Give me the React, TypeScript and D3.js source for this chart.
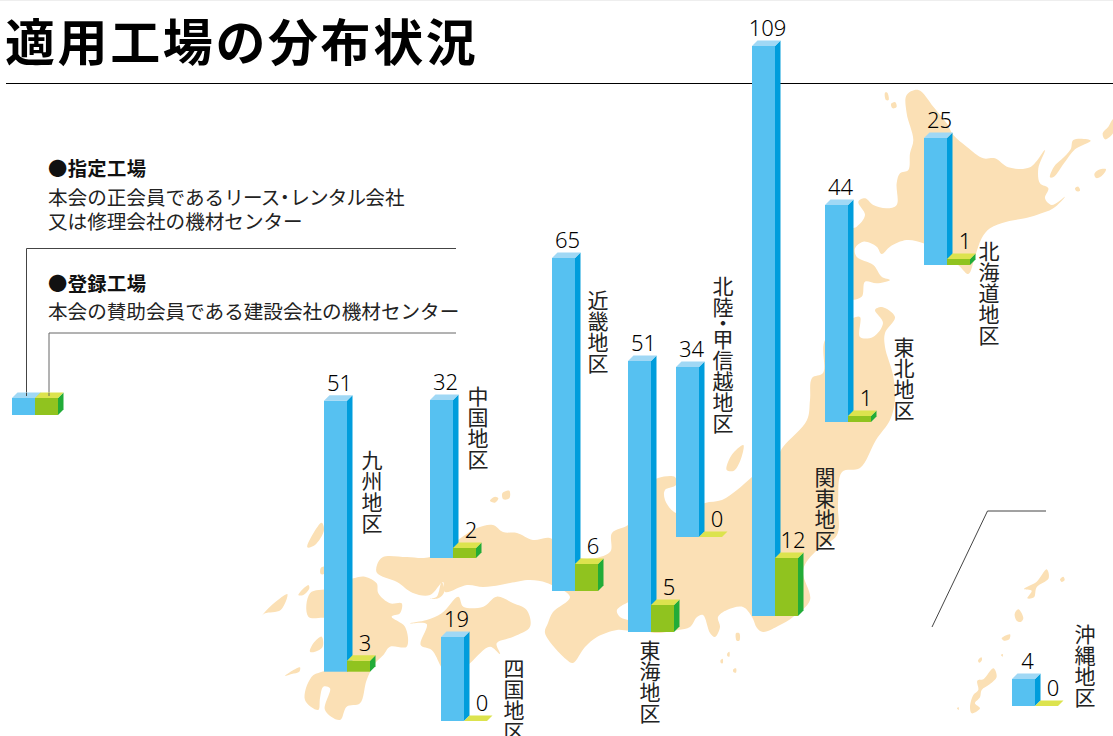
import React from "react";
import * as d3 from "d3";

// ---- data ----
const regions = ["九州地区", "中国地区", "四国地区", "近畿地区", "東海地区", "北陸・甲信越地区", "関東地区", "東北地区", "北海道地区", "沖縄地区"];
const designated = [51, 32, 19, 65, 51, 34, 109, 44, 25, 4];
const registered = [3, 2, 0, 6, 5, 0, 12, 1, 1, 0];

// the source graphic's bar heights are not strictly proportional: calibrated value -> height scale
const scaleDomain = [0, 1, 2, 3, 4, 5, 6, 12, 19, 25, 32, 34, 44, 51, 65, 109];
const scaleRange = [0, 6, 10, 11, 27, 27, 27, 58, 84, 127, 158, 170, 217, 271, 333, 570];

// ---- layout: bar anchor on the map, and label anchor ----
const barX = [324, 430, 441, 552, 628, 676, 752, 825, 924, 1012];
const baseY = [671.7, 558, 721, 591, 632, 537, 616, 422, 265, 706];
const labelX = [372, 478, 514, 598, 650, 723, 825, 904, 989, 1085];
const labelY = [450, 386, 658, 290, 640, 276, 467, 337, 241, 624];

const C = {
  blue: "#56C1F1", blueSide: "#009DDC", blueTop: "#A0D8F5",
  green: "#90C31F", greenSide: "#22AC38", greenTop: "#DCE34E",
  map: "#FBE0B5",
};
const W = 23, D = 5.5;
const LATIN = "'Noto Sans', sans-serif";
const CJK = "'Noto Sans CJK JP', sans-serif";

const h = d3.scaleLinear().domain(scaleDomain).range(scaleRange);

// ---- background map, traced ----
type P = [number, number];
const z = (ox: number, oy: number, pts: P[]): P[] => pts.map(([x, y]) => [x / 3 + ox, y / 3 + oy]);
const Z1 = (p: P[]) => z(700, 80, p);
const Z2 = (p: P[]) => z(250, 450, p);
const Z3 = (p: P[]) => z(530, 420, p);
const Z5 = (p: P[]) => z(920, 500, p);

const hokkaido = Z1([[655, 30], [700, 80], [740, 130], [760, 165], [800, 200], [850, 235], [885, 235], [925, 262], [990, 262], [1035, 210], [1015, 265], [1020, 310], [1045, 325], [1035, 355], [1055, 375], [1095, 350], [1060, 385], [1010, 405], [975, 415], [920, 425], [870, 445], [845, 475], [825, 530], [805, 582], [780, 560], [745, 530], [670, 490], [620, 480], [570, 500], [545, 522], [530, 500], [490, 485], [465, 505], [470, 530], [520, 555], [545, 590], [570, 600], [530, 610], [495, 605], [485, 650], [440, 655], [420, 500], [440, 450], [470, 440], [495, 405], [475, 365], [495, 355], [520, 375], [560, 385], [590, 375], [590, 310], [600, 280], [625, 270], [630, 220], [640, 180], [620, 100], [620, 45]]);
const honshu: P[] = [[853, 318], [860, 317], [860, 337], [873, 337], [883, 323], [875, 310], [882, 307], [895, 317], [885, 333], [885, 347], [893, 375], [895, 400], [890, 420], [876, 440], [860, 468], [842, 472], [838, 503], [837, 535], [817, 550], [803, 570], [810, 600], [793, 617], [780, 625], [763, 632], [757, 628], [752, 617], [743, 607], [727, 610], [718, 617], [720, 627], [715, 637], [710, 633], [703, 615], [697, 617], [690, 627], [678, 630], [650, 632], [640, 620], [640, 600], [617, 610], [620, 617], [632, 622], [632, 630], [617, 630], [597, 637], [585, 647], [573, 663], [567, 660], [545, 633], [548, 623], [553, 612], [570, 597], [547, 583], [530, 580], [510, 583], [500, 585], [483, 587], [467, 585], [445, 592], [443, 582], [430, 595], [413, 593], [397, 582], [377, 573], [377, 565], [383, 557], [407, 557], [430, 557], [477, 528], [493, 525], [503, 532], [517, 533], [533, 540], [550, 538], [580, 558], [610, 552], [612, 533], [628, 525], [640, 510], [640, 490], [658, 478], [675, 477], [676, 485], [665, 490], [665, 500], [676, 513], [690, 510], [705, 503], [722, 500], [737, 490], [752, 477], [775, 460], [783, 447], [807, 420], [810, 400], [812, 378], [823, 373], [825, 340]];
const shikoku = Z2([[480, 520], [530, 510], [575, 490], [625, 440], [640, 470], [700, 470], [740, 440], [790, 460], [830, 480], [840, 530], [790, 560], [740, 580], [750, 612], [720, 590], [660, 640], [600, 700], [573, 650], [545, 600], [512, 585], [530, 522]]);
const kyushu = Z2([[310, 385], [345, 380], [380, 400], [385, 430], [420, 460], [455, 460], [450, 490], [425, 500], [465, 530], [470, 590], [420, 590], [400, 615], [375, 640], [350, 690], [330, 760], [290, 770], [270, 810], [225, 780], [240, 715], [220, 710], [210, 745], [205, 780], [165, 750], [185, 680], [240, 650], [240, 510], [175, 500], [180, 430], [240, 415]]);
const islands: P[][] = [
  Z2([[172, 292], [190, 250], [215, 218], [222, 240], [195, 285]]),
  Z2([[35, 498], [60, 470], [112, 432], [92, 480], [45, 490]]),
  Z2([[180, 605], [190, 580], [215, 560], [218, 590], [195, 605]]),
  Z2([[105, 678], [130, 660], [150, 652], [148, 665], [125, 672]]),
  Z2([[720, 152], [735, 140], [745, 145], [735, 158]]),
  Z2([[757, 130], [778, 122], [778, 145], [760, 148]]),
  Z2([[212, 355], [222, 350], [222, 372], [212, 372]]),
  Z2([[145, 435], [175, 405], [178, 415], [160, 435]]),
  Z2([[540, 445], [560, 440], [575, 395], [583, 425], [565, 445]]),
  Z3([[590, 150], [605, 105], [640, 75], [635, 110], [612, 152]]),
  Z3([[618, 640], [628, 640], [628, 662], [620, 662]]),
  Z3([[592, 700], [598, 695], [598, 710], [592, 708]]),
  Z3([[572, 720], [578, 716], [578, 730], [572, 728]]),
  Z3([[610, 748], [618, 745], [618, 758], [610, 756]]),
  Z1([[555, 38], [562, 38], [566, 60], [558, 60]]),
  Z1([[573, 72], [585, 66], [590, 80], [578, 85]]),
  Z1([[1050, 292], [1062, 260], [1085, 238], [1112, 208], [1120, 180], [1172, 182], [1125, 208], [1092, 250], [1062, 290]]),
  Z1([[1183, 282], [1195, 270], [1218, 268], [1205, 288], [1188, 294]]),
  Z1([[1208, 160], [1225, 140], [1239, 118], [1239, 160], [1215, 178]]),
  Z1([[1125, 325], [1135, 320], [1140, 332], [1130, 334]]),
  Z5([[312, 267], [350, 245], [380, 208], [386, 235], [350, 262], [342, 292], [322, 295], [335, 272]]),
  Z5([[420, 238], [430, 230], [434, 240], [425, 246]]),
  Z5([[284, 342], [295, 328], [310, 355], [302, 366], [290, 362]]),
  Z5([[245, 415], [270, 403], [268, 418], [252, 422]]),
  Z5([[150, 622], [160, 585], [175, 570], [172, 542], [190, 538], [220, 505], [230, 530], [210, 552], [185, 570], [180, 592], [165, 610], [180, 625], [155, 640]]),
  Z5([[174, 482], [184, 472], [186, 480], [178, 488]]),
  Z5([[111, 625], [116, 622], [116, 630]]),
  Z5([[243, 465], [248, 462], [248, 470]]),
];
const coast = d3.line<P>().curve(d3.curveCatmullRomClosed.alpha(0.5));

// ---- 3D block ----
function Block({ x, base, height, front, side, top }: { x: number; base: number; height: number; front: string; side: string; top: string }) {
  const y = base - height;
  const topFace = d3.path();
  topFace.moveTo(x, y); topFace.lineTo(x + D, y - D); topFace.lineTo(x + W + D, y - D); topFace.lineTo(x + W, y); topFace.closePath();
  if (height === 0) return <path d={topFace.toString()} fill={top} />;
  const sideFace = d3.path();
  sideFace.moveTo(x + W, y); sideFace.lineTo(x + W + D, y - D); sideFace.lineTo(x + W + D, base - D); sideFace.lineTo(x + W, base); sideFace.closePath();
  return (
    <g>
      <rect x={x} y={y} width={W} height={height} fill={front} />
      <path d={sideFace.toString()} fill={side} />
      <path d={topFace.toString()} fill={top} />
    </g>
  );
}

const legendHeads = ["●指定工場", "●登録工場"];
const legendLine2 = "又は修理会社の機材センター";
const legendLine3 = "本会の賛助会員である建設会社の機材センター";

export default function App() {
  const numStyle = { fontFamily: LATIN, fontSize: 22, fontWeight: 300, fill: "#000", textAnchor: "middle" as const };
  const body = { x: 48, fontSize: 19.6, fontWeight: 400 };
  return (
    <svg width={1113} height={736} viewBox="0 0 1113 736" style={{ position: "absolute", left: 0, top: 0, display: "block", background: "#fff" }}>
      <rect x={0} y={0} width={1113} height={1} fill="#eeeeee" />
      <text x={5} y={61} fontFamily={CJK} fontWeight={700} fontSize={50} letterSpacing={2.6} fill="#000">適用工場の分布状況</text>
      <line x1={6} x2={1113} y1={83.5} y2={83.5} stroke="#000" strokeWidth={1} />

      <g fill={C.map}>
        {[hokkaido, honshu, shikoku, kyushu, ...islands].map((p, i) => <path key={i} d={coast(p) ?? ""} />)}
      </g>

      <g fontFamily={CJK} fill="#222">
        <text x={48} y={175.5} fontSize={19.3} fontWeight={700} fill="#111" letterSpacing={0.4}>{legendHeads[0]}</text>
        <text {...body} y={205}>本会の正会員である
          <tspan letterSpacing={-0.8}>リース</tspan>
          <tspan dx={-4.5} letterSpacing={-4.5}>・</tspan>
          <tspan letterSpacing={-0.8}>レンタル</tspan>会社</text>
        <text {...body} y={229}>{legendLine2}</text>
        <text x={48} y={290.5} fontSize={19.3} fontWeight={700} fill="#111" letterSpacing={0.4}>{legendHeads[1]}</text>
        <text {...body} y={319}>{legendLine3}</text>
      </g>

      <g fill="none" strokeWidth={1}>
        <path d="M26.5,395V248.5H456" stroke="#444" />
        <path d="M49,395V333H456" stroke="#666" />
        <path d="M932,627L987.5,511H1046" stroke="#444" />
      </g>
      <Block x={12} base={415} height={h(4) - 10} front={C.blue} side={C.blueSide} top={C.blueTop} />
      <Block x={35} base={415} height={h(4) - 10} front={C.green} side={C.greenSide} top={C.greenTop} />
      <path d="M26.5,393V396" stroke="#444" />
      <path d="M49,393V396" stroke="#666" />

      {regions.map((r, i) => {
        const x = barX[i], base = baseY[i];
        const hb = h(designated[i]), hg = h(registered[i]);
        const parts = r.split("・");
        return (
          <g key={r}>
            <Block x={x} base={base} height={hb} front={C.blue} side={C.blueSide} top={C.blueTop} />
            <Block x={x + W} base={base} height={hg} front={C.green} side={C.greenSide} top={C.greenTop} />
            <text x={x + 15.5} y={base - hb - 10} {...numStyle}>{designated[i]}</text>
            <text x={x + W + 18} y={base - hg - 10} {...numStyle}>{registered[i]}</text>
            <text x={labelX[i]} y={labelY[i]} fontFamily={CJK} fontWeight={400} fontSize={21} fill="#222"
              style={{ writingMode: "vertical-rl", textOrientation: "upright" }}>
              {parts.length > 1 ? (
                <>{parts[0]}<tspan dy={-5} letterSpacing={-5}>・</tspan>{parts[1]}</>
              ) : r}
            </text>
          </g>
        );
      })}
    </svg>
  );
}
